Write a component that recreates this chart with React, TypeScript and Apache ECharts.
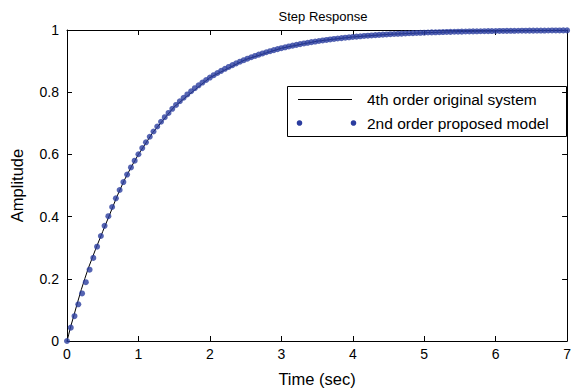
import React, { useEffect, useRef } from "react";
import * as echarts from "echarts";

const xTicks = [0, 1, 2, 3, 4, 5, 6, 7];
const yTicks = [0, 0.2, 0.4, 0.6, 0.8, 1];

// 4th order original system (black line)
const lineTimes = [0, 0.025, 0.05, 0.1, 0.15, 0.2, 0.25, 0.3, 0.4, 0.5, 0.6, 0.7, 0.8, 0.9, 1.0, 1.2, 1.5, 2.0, 2.5, 3.0, 3.5, 4.0, 4.5, 5.0, 5.5, 6.0, 6.5, 7.0];
const lineValues = [0, 0.022, 0.045, 0.085, 0.126, 0.165, 0.201, 0.235, 0.295, 0.352, 0.408, 0.465, 0.516, 0.56, 0.6, 0.67, 0.753, 0.847, 0.905, 0.9415, 0.964, 0.9776, 0.986, 0.991, 0.995, 0.9967, 0.998, 0.9987];

// 2nd order proposed model (blue dots)
const dotTimes = [
  0, 0.053, 0.105, 0.158, 0.211, 0.263, 0.316, 0.368, 0.421, 0.474, 0.526, 0.579, 0.632, 0.684, 0.737, 0.789, 0.842, 0.895, 0.947,
  1, 1.053, 1.105, 1.158, 1.211, 1.263, 1.316, 1.368, 1.421, 1.474, 1.526, 1.579, 1.632, 1.684, 1.737, 1.789, 1.842, 1.895, 1.947,
  2, 2.053, 2.105, 2.158, 2.211, 2.263, 2.316, 2.368, 2.421, 2.474, 2.526, 2.579, 2.632, 2.684, 2.737, 2.789, 2.842, 2.895, 2.947,
  3, 3.053, 3.105, 3.158, 3.211, 3.263, 3.316, 3.368, 3.421, 3.474, 3.526, 3.579, 3.632, 3.684, 3.737, 3.789, 3.842, 3.895, 3.947,
  4, 4.053, 4.105, 4.158, 4.211, 4.263, 4.316, 4.368, 4.421, 4.474, 4.526, 4.579, 4.632, 4.684, 4.737, 4.789, 4.842, 4.895, 4.947,
  5, 5.053, 5.105, 5.158, 5.211, 5.263, 5.316, 5.368, 5.421, 5.474, 5.526, 5.579, 5.632, 5.684, 5.737, 5.789, 5.842, 5.895, 5.947,
  6, 6.053, 6.105, 6.158, 6.211, 6.263, 6.316, 6.368, 6.421, 6.474, 6.526, 6.579, 6.632, 6.684, 6.737, 6.789, 6.842, 6.895, 6.947,
  7,
];
const dotValues = [
  0, 0.043, 0.08, 0.118, 0.153, 0.1892, 0.2292, 0.2672, 0.3033, 0.3376, 0.3703, 0.4013, 0.4309, 0.4589, 0.4856, 0.511, 0.5351, 0.558, 0.5798,
  0.6005, 0.6202, 0.6389, 0.6567, 0.6736, 0.6897, 0.705, 0.7196, 0.7334, 0.7465, 0.759, 0.7709, 0.7822, 0.7929, 0.8031, 0.8129, 0.8221, 0.8309, 0.8392,
  0.8471, 0.8547, 0.8618, 0.8686, 0.8751, 0.8813, 0.8871, 0.8927, 0.898, 0.903, 0.9078, 0.9123, 0.9167, 0.9208, 0.9247, 0.9284, 0.9319, 0.9353, 0.9385,
  0.9415, 0.9444, 0.9471, 0.9497, 0.9522, 0.9546, 0.9568, 0.9589, 0.961, 0.9629, 0.9647, 0.9665, 0.9681, 0.9697, 0.9712, 0.9726, 0.9739, 0.9752, 0.9765,
  0.9776, 0.9787, 0.9798, 0.9808, 0.9817, 0.9826, 0.9835, 0.9843, 0.9851, 0.9858, 0.9865, 0.9872, 0.9878, 0.9884, 0.989, 0.9895, 0.99, 0.9905, 0.991,
  0.9914, 0.9919, 0.9923, 0.9926, 0.993, 0.9933, 0.9937, 0.994, 0.9943, 0.9946, 0.9948, 0.9951, 0.9953, 0.9956, 0.9958, 0.996, 0.9962, 0.9964, 0.9966,
  0.9967, 0.9969, 0.997, 0.9972, 0.9973, 0.9975, 0.9976, 0.9977, 0.9978, 0.9979, 0.998, 0.9981, 0.9982, 0.9983, 0.9984, 0.9985, 0.9985, 0.9986, 0.9987,
  0.9987,
];

const seriesNames = ["4th order original system", "2nd order proposed model"];
const titleText = "Step Response";
const xName = "Time (sec)";
const yName = "Amplitude";

const FONT = "'Liberation Sans', Arial, sans-serif";
const BLUE = "#2b3d9f";

function tick() {
  return { show: true, inside: true, length: 5, lineStyle: { color: "#000", width: 1 } };
}
function axisLine() {
  return { show: true, onZero: false, lineStyle: { color: "#000", width: 1 } };
}

export default function App() {
  const ref = useRef<HTMLDivElement>(null);

  useEffect(() => {
    if (!ref.current) return;
    const chart = echarts.init(ref.current, null, { renderer: "svg" });
    chart.setOption({
      animation: false,
      backgroundColor: "#fff",
      title: {
        text: titleText,
        left: 318,
        top: 5,
        textAlign: "center",
        textStyle: { fontSize: 13, fontWeight: "normal", color: "#000", fontFamily: FONT },
      },
      grid: { left: 66, right: 5, top: 30, bottom: 49, containLabel: false },
      xAxis: [
        {
          type: "value",
          min: xTicks[0],
          max: xTicks[xTicks.length - 1],
          interval: 1,
          position: "bottom",
          name: xName,
          nameLocation: "middle",
          nameGap: 29,
          nameTextStyle: { fontSize: 16.5, color: "#000", fontFamily: FONT },
          axisLabel: { show: true, inside: false, color: "#000", fontSize: 14, margin: 6, fontFamily: FONT },
          axisLine: axisLine(),
          axisTick: tick(),
          splitLine: { show: false },
        },
        {
          type: "value",
          min: xTicks[0],
          max: xTicks[xTicks.length - 1],
          interval: 1,
          position: "top",
          axisLabel: { show: false },
          axisLine: axisLine(),
          axisTick: tick(),
          splitLine: { show: false },
        },
      ],
      yAxis: [
        {
          type: "value",
          min: yTicks[0],
          max: yTicks[yTicks.length - 1],
          interval: 0.2,
          position: "left",
          name: yName,
          nameLocation: "middle",
          nameGap: 42,
          nameTextStyle: { fontSize: 16.5, color: "#000", fontFamily: FONT },
          axisLabel: { show: true, inside: false, color: "#000", fontSize: 14, margin: 8, fontFamily: FONT },
          axisLine: axisLine(),
          axisTick: tick(),
          splitLine: { show: false },
        },
        {
          type: "value",
          min: yTicks[0],
          max: yTicks[yTicks.length - 1],
          interval: 0.2,
          position: "right",
          axisLabel: { show: false },
          axisLine: axisLine(),
          axisTick: tick(),
          splitLine: { show: false },
        },
      ],
      series: [
        {
          name: seriesNames[0],
          type: "line",
          data: lineTimes.map((t, i) => [t, lineValues[i]]),
          showSymbol: false,
          lineStyle: { color: "#000", width: 1 },
          z: 2,
        },
        {
          name: seriesNames[1],
          type: "scatter",
          data: dotTimes.map((t, i) => [t, dotValues[i]]),
          symbol: "circle",
          symbolSize: 6,
          itemStyle: { color: BLUE },
          z: 3,
        },
      ],
      graphic: [
        {
          type: "group",
          left: 287,
          top: 86,
          z: 100,
          children: [
            {
              type: "rect",
              shape: { x: 0.5, y: 0.5, width: 279, height: 50 },
              style: { fill: "#fff", stroke: "#000", lineWidth: 1 },
            },
            {
              type: "line",
              shape: { x1: 11, y1: 13.5, x2: 65, y2: 13.5 },
              style: { stroke: "#000", lineWidth: 1 },
            },
            { type: "circle", shape: { cx: 12.5, cy: 37, r: 2.8 }, style: { fill: BLUE } },
            { type: "circle", shape: { cx: 66.5, cy: 37, r: 2.8 }, style: { fill: BLUE } },
            {
              type: "text",
              x: 80,
              y: 13.5,
              style: { text: seriesNames[0], fontSize: 15.5, fill: "#000", fontFamily: FONT, verticalAlign: "middle" },
            },
            {
              type: "text",
              x: 80,
              y: 37,
              style: { text: seriesNames[1], fontSize: 15.5, fill: "#000", fontFamily: FONT, verticalAlign: "middle" },
            },
          ],
        },
      ],
    });
    return () => chart.dispose();
  }, []);

  return (
    <div
      ref={ref}
      style={{ position: "fixed", left: 0, top: 0, width: 574, height: 392, background: "#fff" }}
    />
  );
}
